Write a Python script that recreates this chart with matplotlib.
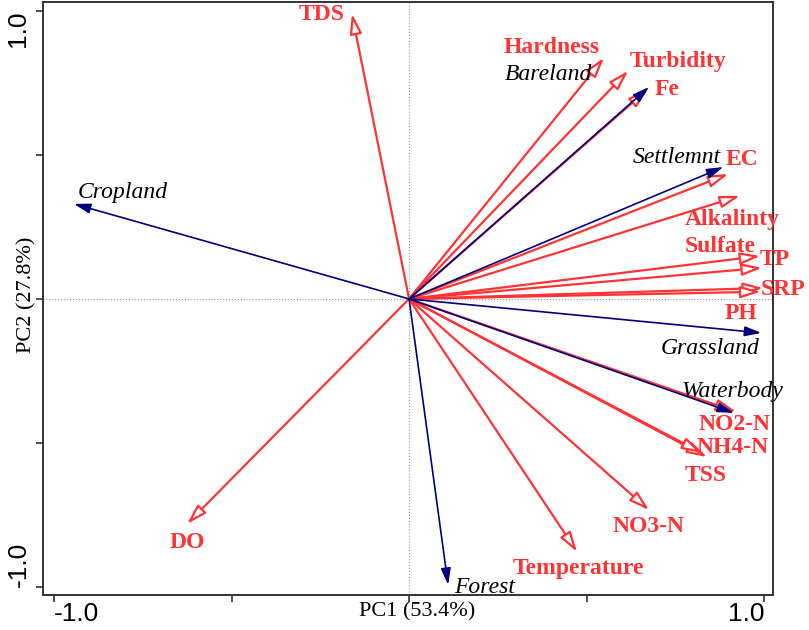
import matplotlib
matplotlib.use("Agg")
import matplotlib.pyplot as plt

# Response variables (red, open arrowheads)
red_names = ['TDS', 'Hardness', 'Turbidity', 'Fe', 'EC', 'Alkalinty', 'TP', 'Sulfate',
             'SRP', 'PH', 'NO2-N', 'NH4-N', 'TSS', 'NO3-N', 'Temperature', 'DO']
red_x = [-0.161, 0.549, 0.617, 0.673, 0.899, 0.932, 0.989, 0.994,
         0.997, 0.990, 0.921, 0.839, 0.825, 0.676, 0.473, -0.625]
red_y = [0.990, 0.837, 0.792, 0.729, 0.434, 0.358, 0.149, 0.108,
         0.038, 0.025, -0.392, -0.549, -0.535, -0.733, -0.878, -0.781]

# Land-use variables (blue, filled arrowheads)
blue_names = ['Cropland', 'Bareland', 'Settlemnt', 'Grassland', 'Waterbody', 'Forest']
blue_x = [-0.944, 0.676, 0.885, 0.992, 0.915, 0.110]
blue_y = [0.330, 0.736, 0.458, -0.118, -0.396, -0.993]

x_label = 'PC1 (53.4%)'
y_label = 'PC2 (27.8%)'

# label offsets (pixels, relative to arrow tip)
red_off = {'TDS': (-30, 2), 'Hardness': (-52, 13), 'Turbidity': (50, 12), 'Fe': (19, 2),
           'EC': (14, 17), 'Alkalinty': (-8, -21), 'TP': (15, 0), 'Sulfate': (-42, 24),
           'SRP': (20, 1), 'PH': (-20, -19), 'NO2-N': (-1, -10), 'NH4-N': (26, 13),
           'TSS': (4, -19), 'NO3-N': (0, -13), 'Temperature': (1, -14), 'DO': (0, -16)}
blue_off = {'Cropland': (49, 14), 'Bareland': (-101, 15), 'Settlemnt': (-46, 13),
            'Grassland': (-51, -13), 'Waterbody': (-2, 24), 'Forest': (37, 0)}
DY = -3

RED = '#ff3333'
NAVY = '#000080'

fig = plt.figure(figsize=(8.09, 6.30), dpi=100)
ax = fig.add_axes([43 / 809, 1 - 595 / 630, 730 / 809, 593 / 630])
ax.set_xlim(-1.031, 1.025)
ax.set_ylim(-1.028, 1.031)

ax.axhline(0, color='#999999', lw=0.8, ls=':', zorder=0)
ax.axvline(0, color='#999999', lw=0.8, ls=':', zorder=0)

for name, x, y in zip(red_names, red_x, red_y):
    ax.annotate('', xy=(x, y), xytext=(0, 0),
                arrowprops=dict(arrowstyle='-|>,head_length=1.2,head_width=0.36',
                                edgecolor=RED, facecolor='white', lw=1.6,
                                shrinkA=0, shrinkB=0, mutation_scale=10))
    dx, dy = red_off[name]
    ax.annotate(name, xy=(x, y), xytext=(dx, dy + DY), textcoords='offset pixels',
                ha='center', va='center', color=RED, fontsize=17,
                fontweight='bold', family='Liberation Serif', annotation_clip=False)

for name, x, y in zip(blue_names, blue_x, blue_y):
    ax.annotate('', xy=(x, y), xytext=(0, 0),
                arrowprops=dict(arrowstyle='-|>,head_length=1.0,head_width=0.3',
                                color=NAVY, lw=1.2,
                                shrinkA=0, shrinkB=0, mutation_scale=10))
    dx, dy = blue_off[name]
    ax.annotate(name, xy=(x, y), xytext=(dx, dy + DY), textcoords='offset pixels',
                ha='center', va='center', color='black', fontsize=17,
                style='italic', family='Liberation Serif', annotation_clip=False)

ax.set_xticks([-1.0, -0.5, 0.0, 0.5, 1.0])
ax.set_xticklabels(['-1.0', '', '', '', '1.0'])
ax.set_yticks([-1.0, -0.5, 0.0, 0.5, 1.0])
ax.set_yticklabels(['-1.0', '', '', '', '1.0'], rotation=90)
ax.tick_params(axis='both', direction='out', length=5, width=1.2, color='#333333')
ax.tick_params(axis='x', pad=0, labelsize=19)
ax.tick_params(axis='y', pad=4, labelsize=19)
for lab in ax.get_xticklabels():
    lab.set_family('Liberation Sans')
for lab in ax.get_yticklabels():
    lab.set_family('Liberation Sans')
xl = ax.get_xticklabels()
xl[0].set_ha('left')
xl[-1].set_ha('right')
yl = ax.get_yticklabels()
yl[0].set_va('bottom')
yl[-1].set_va('top')

for s in ax.spines.values():
    s.set_linewidth(1.4)
    s.set_color('#333333')

fig.text(417 / 809, 1 - 612 / 630, x_label, ha='center', va='center',
         fontsize=16, family='Liberation Serif')
fig.text(27 / 809, 1 - 295 / 630, y_label, ha='center', va='center',
         rotation=90, fontsize=16, family='Liberation Serif')

fig.savefig('out.png', dpi=100)
